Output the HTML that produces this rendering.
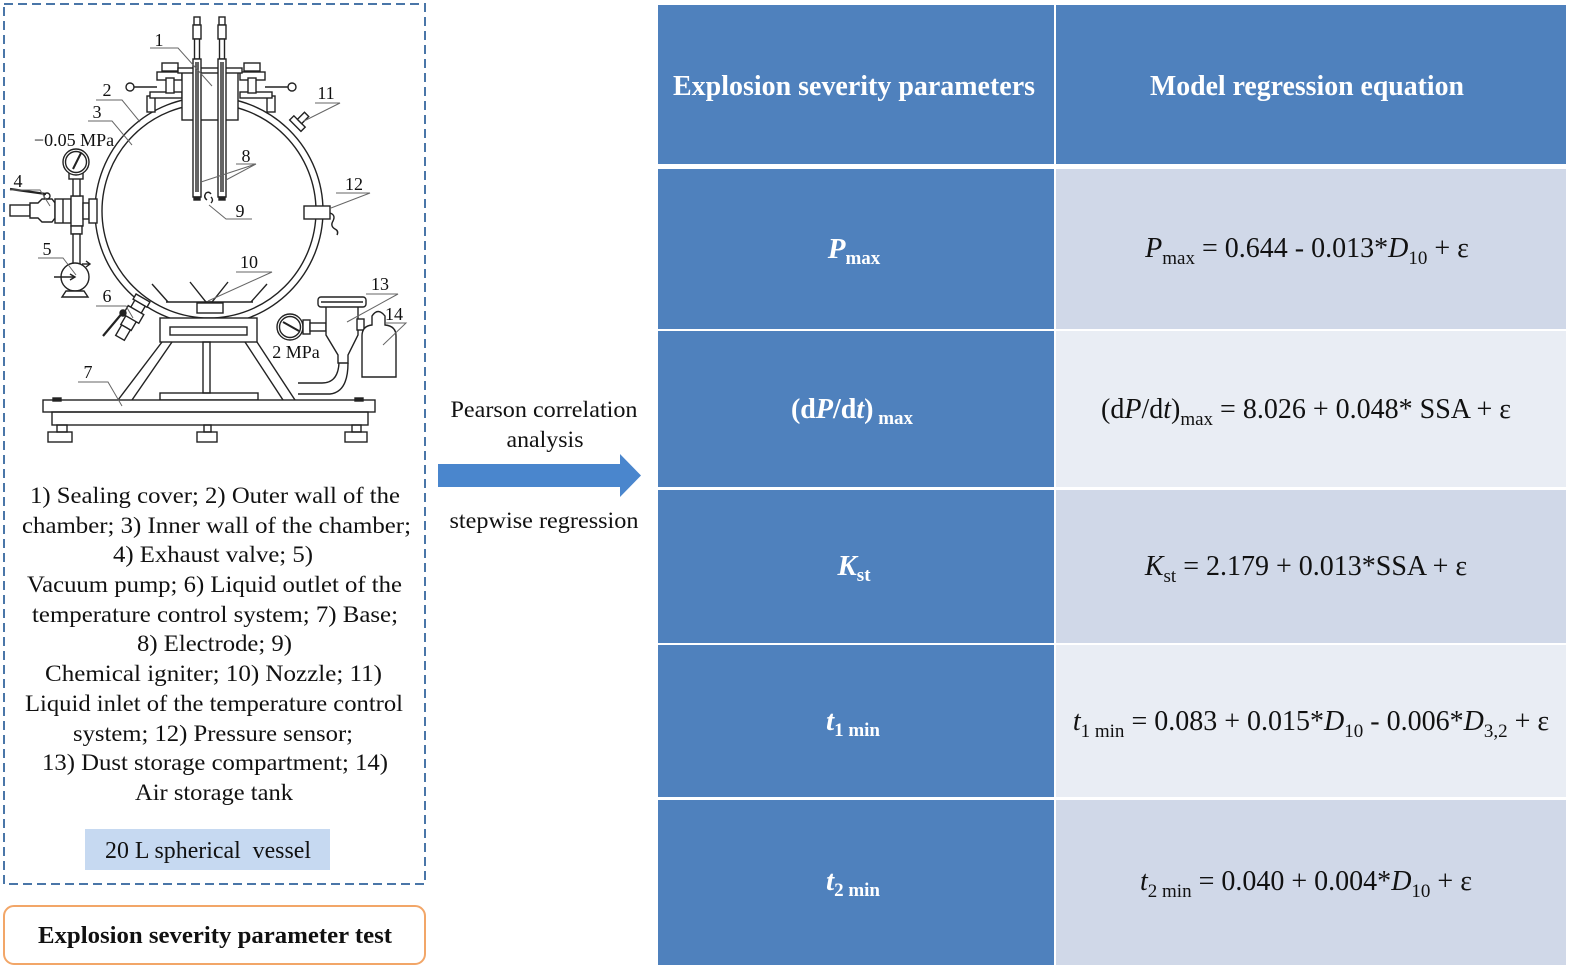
<!DOCTYPE html>
<html><head><meta charset="utf-8"><style>html,body{margin:0;padding:0;background:#fff}svg{display:block}text{white-space:pre}</style></head><body>
<svg width="1575" height="972" viewBox="0 0 1575 972" xmlns="http://www.w3.org/2000/svg" font-family="'Liberation Serif', serif">
<rect width="1575" height="972" fill="#fff"/>

<!-- ============ TABLE ============ -->
<g>
<rect x="658" y="5" width="396" height="159" fill="#4f81bd"/>
<rect x="1056" y="5" width="510" height="159" fill="#4f81bd"/>
<rect x="658" y="169" width="396" height="160" fill="#4f81bd"/>
<rect x="1056" y="169" width="510" height="160" fill="#d0d8e8"/>
<rect x="658" y="331" width="396" height="156" fill="#4f81bd"/>
<rect x="1056" y="331" width="510" height="156" fill="#e9edf4"/>
<rect x="658" y="490" width="396" height="153" fill="#4f81bd"/>
<rect x="1056" y="490" width="510" height="153" fill="#d0d8e8"/>
<rect x="658" y="645" width="396" height="152" fill="#4f81bd"/>
<rect x="1056" y="645" width="510" height="152" fill="#e9edf4"/>
<rect x="658" y="800" width="396" height="165" fill="#4f81bd"/>
<rect x="1056" y="800" width="510" height="165" fill="#d0d8e8"/>
</g>
<g fill="#fff" font-weight="bold" font-size="28" text-anchor="middle">
<text x="854" y="95" textLength="362" lengthAdjust="spacingAndGlyphs">Explosion severity parameters</text>
<text x="1307" y="95" textLength="314" lengthAdjust="spacingAndGlyphs">Model regression equation</text>
<text x="854" y="258" font-size="29"><tspan font-style="italic">P</tspan><tspan font-size="19" dy="6">max</tspan></text>
<text x="852" y="418"><tspan>(d</tspan><tspan font-style="italic">P</tspan><tspan>/d</tspan><tspan font-style="italic">t</tspan><tspan>)</tspan><tspan font-size="19" dy="6"> max</tspan></text>
<text x="854" y="575" font-size="29"><tspan font-style="italic">K</tspan><tspan font-size="19" dy="6">st</tspan></text>
<text x="853" y="730" font-size="29"><tspan font-style="italic">t</tspan><tspan font-size="19" dy="6">1 min</tspan></text>
<text x="853" y="890" font-size="29"><tspan font-style="italic">t</tspan><tspan font-size="19" dy="6">2 min</tspan></text>
</g>
<g fill="#111" font-size="28" text-anchor="middle">
<text x="1307" y="257"><tspan font-style="italic">P</tspan><tspan font-size="19" dy="7">max</tspan><tspan dy="-7"> = 0.644 - 0.013*</tspan><tspan font-style="italic">D</tspan><tspan font-size="19" dy="7">10</tspan><tspan dy="-7"> + ε</tspan></text>
<text x="1306" y="418"><tspan>(d</tspan><tspan font-style="italic">P</tspan><tspan>/d</tspan><tspan font-style="italic">t</tspan><tspan>)</tspan><tspan font-size="19" dy="7">max</tspan><tspan dy="-7"> = 8.026 + 0.048* SSA + ε</tspan></text>
<text x="1306" y="575"><tspan font-style="italic">K</tspan><tspan font-size="19" dy="7">st</tspan><tspan dy="-7"> = 2.179 + 0.013*SSA + ε</tspan></text>
<text x="1311" y="730"><tspan font-style="italic">t</tspan><tspan font-size="19" dy="7">1 min</tspan><tspan dy="-7"> = 0.083 + 0.015*</tspan><tspan font-style="italic">D</tspan><tspan font-size="19" dy="7">10</tspan><tspan dy="-7"> - 0.006*</tspan><tspan font-style="italic">D</tspan><tspan font-size="19" dy="7">3,2</tspan><tspan dy="-7"> + ε</tspan></text>
<text x="1306" y="890"><tspan font-style="italic">t</tspan><tspan font-size="19" dy="7">2 min</tspan><tspan dy="-7"> = 0.040 + 0.004*</tspan><tspan font-style="italic">D</tspan><tspan font-size="19" dy="7">10</tspan><tspan dy="-7"> + ε</tspan></text>
</g>

<!-- ============ ARROW ============ -->
<polygon points="438,464 620,464 620,454 641,475.5 620,497 620,487 438,487" fill="#4a86cd"/>
<g fill="#111" font-size="23" text-anchor="middle">
<text x="544" y="417" textLength="187" lengthAdjust="spacingAndGlyphs">Pearson correlation</text>
<text x="545" y="447" textLength="77" lengthAdjust="spacingAndGlyphs">analysis</text>
<text x="544" y="528" textLength="189" lengthAdjust="spacingAndGlyphs">stepwise regression</text>
</g>

<!-- ============ LEFT PANEL ============ -->
<rect x="4" y="4" width="421" height="880" fill="none" stroke="#4a76a8" stroke-width="2" stroke-dasharray="9,5"/>

<!-- drawing -->
<g stroke="#222" stroke-width="1.4" fill="none">
  <circle cx="209" cy="211" r="114"/>
  <circle cx="209" cy="211" r="107"/>
  <line x1="152" y1="284" x2="168" y2="302"/>
  <line x1="267" y1="284" x2="251" y2="302"/>
  <line x1="166" y1="302" x2="253" y2="302"/>
  <path d="M190,282 L206,302 L212,302 L228,282"/>
  <rect x="197" y="303" width="26" height="10" fill="#fff"/>
  <rect x="160" y="318" width="97" height="24" fill="#fff"/>
  <rect x="170" y="327" width="77" height="8"/>
  <line x1="162" y1="342" x2="118" y2="400"/>
  <line x1="172" y1="342" x2="132" y2="400"/>
  <line x1="245" y1="342" x2="283" y2="400"/>
  <line x1="257" y1="342" x2="295" y2="400"/>
  <rect x="203" y="342" width="7" height="51"/>
  <rect x="160" y="393" width="98" height="7"/>
  <rect x="43" y="400" width="332" height="12" fill="#fff"/>
  <rect x="52" y="412" width="316" height="13"/>
  <rect x="57" y="425" width="10" height="7"/>
  <rect x="48" y="432" width="24" height="10"/>
  <rect x="204" y="425" width="7" height="7"/>
  <rect x="197" y="432" width="20" height="10"/>
  <rect x="352" y="425" width="9" height="7"/>
  <rect x="345" y="432" width="22" height="10"/>
  <rect x="53" y="398" width="8" height="3" fill="#222"/>
  <rect x="355" y="398" width="8" height="3" fill="#222"/>

  <g>
    <rect x="147" y="96" width="8" height="16" fill="#fff"/>
    <rect x="150" y="92" width="32" height="6" fill="#fff"/>
    <rect x="157" y="72" width="25" height="8" fill="#fff"/>
    <rect x="166" y="78" width="8" height="15" fill="#fff"/>
    <rect x="162" y="63" width="16" height="8" fill="#fff"/>
    <line x1="134" y1="87" x2="157" y2="87"/>
    <circle cx="130" cy="87" r="4" fill="#fff"/>
  </g>
  <g transform="matrix(-1,0,0,1,422,0)">
    <rect x="147" y="96" width="8" height="16" fill="#fff"/>
    <rect x="150" y="92" width="32" height="6" fill="#fff"/>
    <rect x="157" y="72" width="25" height="8" fill="#fff"/>
    <rect x="166" y="78" width="8" height="15" fill="#fff"/>
    <rect x="162" y="63" width="16" height="8" fill="#fff"/>
    <line x1="134" y1="87" x2="157" y2="87"/>
    <circle cx="130" cy="87" r="4" fill="#fff"/>
  </g>
  <rect x="182" y="72" width="56" height="48" fill="#fff"/>
  <rect x="178" y="68" width="64" height="5" fill="#fff"/>
  <g fill="#fff">
    <rect x="194" y="17" width="6" height="8"/>
    <rect x="193" y="25" width="8" height="14"/>
    <rect x="194.5" y="39" width="5" height="20"/>
    <rect x="193" y="59" width="8" height="138"/>
    <rect x="219" y="17" width="6" height="8"/>
    <rect x="218" y="25" width="8" height="14"/>
    <rect x="219.5" y="39" width="5" height="20"/>
    <rect x="218" y="59" width="8" height="138"/>
  </g>
  <line x1="196" y1="62" x2="196" y2="192"/><line x1="198" y1="62" x2="198" y2="192"/>
  <line x1="221" y1="62" x2="221" y2="192"/><line x1="223" y1="62" x2="223" y2="192"/>
  <rect x="194" y="197" width="6" height="3" fill="#222"/>
  <rect x="219" y="197" width="6" height="3" fill="#222"/>
  <path d="M207,200 q-4,-3 -1,-7 q3,-2 5,1 M211,197 q3,3 0,6"/>

  <g transform="translate(296,125) rotate(45)">
    <rect x="-8" y="-5" width="16" height="6" fill="#fff"/>
    <rect x="-3" y="-15" width="6" height="10" fill="#fff"/>
  </g>
  <rect x="304" y="206" width="26" height="13" fill="#fff"/>
  <path d="M330,213 q6,2 3,8 q-3,5 2,8 q4,2 2,6"/>

  <rect x="10" y="205" width="20" height="11" fill="#fff"/>
  <path d="M30,203 L38,203 L42,199 L52,199 L55,203 L55,218 L52,222 L42,222 L38,218 L30,218 Z" fill="#fff"/>
  <circle cx="47" cy="196" r="3" fill="#fff"/>
  <line x1="10" y1="189" x2="46" y2="194" stroke-width="2.2"/>
  <rect x="55" y="199" width="16" height="24" fill="#fff"/>
  <line x1="63" y1="199" x2="63" y2="223"/>
  <rect x="71" y="196" width="12" height="30" fill="#fff"/>
  <rect x="83" y="203" width="6" height="16" fill="#fff"/>
  <rect x="89" y="199" width="8" height="24" fill="#fff"/>
  <rect x="73" y="178" width="7" height="18" fill="#fff"/>
  <rect x="69" y="173" width="14" height="6" fill="#fff"/>
  <circle cx="76" cy="162" r="13" fill="#fff"/>
  <circle cx="76" cy="162" r="10.5"/>
  <line x1="73" y1="169" x2="81" y2="153" stroke-width="2"/>
  <rect x="71" y="226" width="11" height="8" fill="#fff"/>
  <rect x="73" y="234" width="7" height="30" fill="#fff"/>
  <circle cx="75" cy="277" r="14" fill="#fff"/>
  <path d="M62,297 L66,291 L84,291 L88,297 Z" fill="#fff"/>
  <line x1="54" y1="277" x2="75" y2="277"/>
  <path d="M70,274 L75,277 L70,280"/>
  <line x1="82" y1="264" x2="90" y2="264"/>
  <path d="M86,261 L90,264 L86,267"/>

  <g transform="translate(143,298) rotate(120)">
    <rect x="0" y="-8" width="6" height="16" fill="#fff"/>
    <rect x="6" y="-6" width="28" height="12" fill="#fff"/>
    <rect x="14" y="-9" width="10" height="18" fill="#fff"/>
    <rect x="34" y="-5" width="12" height="10" fill="#fff"/>
  </g>
  <line x1="124" y1="311" x2="103" y2="336" stroke-width="2.2"/>
  <circle cx="123" cy="313" r="3" fill="#222"/>

  <circle cx="290" cy="327" r="13" fill="#fff"/>
  <circle cx="290" cy="327" r="10.5"/>
  <line x1="283" y1="322" x2="299" y2="331" stroke-width="2"/>
  <rect x="303" y="320" width="7" height="14" fill="#fff"/>
  <rect x="310" y="323" width="16" height="8" fill="#fff"/>
  <path d="M326,307 L326,335 L338,355 L338,363 L348,363 L348,355 L358,335 L358,307" fill="#fff"/>
  <rect x="318" y="297" width="48" height="10" rx="3" fill="#fff"/>
  <line x1="321" y1="302" x2="363" y2="302"/>
  <path d="M298,383 L322,383 Q338,383 339,363"/>
  <path d="M298,394 L330,394 Q348,392 348,363"/>
  <rect x="357" y="319" width="7" height="11" fill="#fff"/>
  <path d="M362,377 L362,336 Q362,326 372,325 L372,316 Q378,307 385,316 L385,325 Q396,326 396,336 L396,377 Z" fill="#fff"/>
</g>

<g stroke="#666" stroke-width="1" fill="none">
  <path d="M150,48 L178,48 L212,86"/>
  <path d="M96,100 L122,100 L140,122"/>
  <path d="M88,121 L112,121 L132,145"/>
  <path d="M315,103 L340,103 L304,121"/>
  <path d="M236,164 L256,164 L201,182 M256,164 L226,180"/>
  <path d="M252,219 L226,219 L209,205"/>
  <path d="M336,193 L370,193 L331,208"/>
  <path d="M236,272 L272,272 L208,301"/>
  <path d="M366,294 L398,294 L347,322"/>
  <path d="M386,323 L406,323 L383,345"/>
  <path d="M10,190 L40,190 L50,206"/>
  <path d="M38,258 L63,258 L76,275"/>
  <path d="M96,306 L126,306 L133,318"/>
  <path d="M78,382 L108,382 L122,406"/>
</g>
<g fill="#111" font-size="18" text-anchor="middle">
  <text x="159" y="46">1</text>
  <text x="107" y="96">2</text>
  <text x="97" y="118">3</text>
  <text x="74" y="146">−0.05 MPa</text>
  <text x="326" y="99">11</text>
  <text x="246" y="162">8</text>
  <text x="240" y="217">9</text>
  <text x="354" y="190">12</text>
  <text x="249" y="268">10</text>
  <text x="380" y="290">13</text>
  <text x="394" y="320">14</text>
  <text x="18" y="187">4</text>
  <text x="47" y="255">5</text>
  <text x="107" y="302">6</text>
  <text x="88" y="378">7</text>
  <text x="296" y="358">2 MPa</text>
</g>

<g fill="#111" font-size="23" text-anchor="middle" lengthAdjust="spacingAndGlyphs">
  <text x="215" y="503" textLength="370" lengthAdjust="spacingAndGlyphs">1) Sealing cover; 2) Outer wall of the</text>
  <text x="216.5" y="533" textLength="389" lengthAdjust="spacingAndGlyphs">chamber; 3) Inner wall of the chamber;</text>
  <text x="213" y="562" textLength="200" lengthAdjust="spacingAndGlyphs">4) Exhaust valve; 5)</text>
  <text x="214.5" y="592" textLength="375" lengthAdjust="spacingAndGlyphs">Vacuum pump; 6) Liquid outlet of the</text>
  <text x="215" y="622" textLength="366" lengthAdjust="spacingAndGlyphs">temperature control system; 7) Base;</text>
  <text x="214.5" y="651" textLength="155" lengthAdjust="spacingAndGlyphs">8) Electrode; 9)</text>
  <text x="213.5" y="681" textLength="337" lengthAdjust="spacingAndGlyphs">Chemical igniter; 10) Nozzle; 11)</text>
  <text x="214" y="711" textLength="378" lengthAdjust="spacingAndGlyphs">Liquid inlet of the temperature control</text>
  <text x="213" y="741" textLength="280" lengthAdjust="spacingAndGlyphs">system; 12) Pressure sensor;</text>
  <text x="215" y="770" textLength="346" lengthAdjust="spacingAndGlyphs">13) Dust storage compartment; 14)</text>
  <text x="214" y="800" textLength="158" lengthAdjust="spacingAndGlyphs">Air storage tank</text>
</g>

<rect x="85" y="829" width="245" height="41" fill="#c6d9f1"/>
<text x="208" y="858" font-size="24" fill="#111" text-anchor="middle" textLength="206" lengthAdjust="spacingAndGlyphs">20 L spherical  vessel</text>

<rect x="4" y="906" width="421" height="58" rx="10" ry="10" fill="#fff" stroke="#f2a668" stroke-width="2"/>
<text x="215" y="943" font-size="24" font-weight="bold" fill="#111" text-anchor="middle" textLength="354" lengthAdjust="spacingAndGlyphs">Explosion severity parameter test</text>
</svg>
</body></html>
